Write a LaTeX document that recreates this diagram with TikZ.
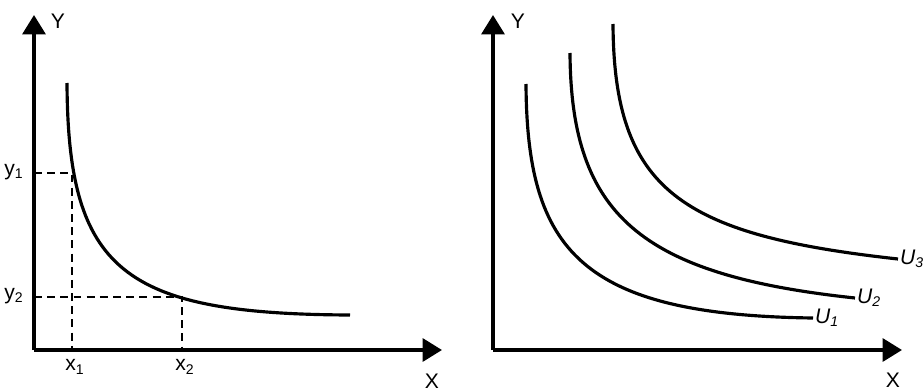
\documentclass[tikz,border=0pt]{standalone}
\usepackage{fontspec}
\setmainfont{Liberation Sans}
\usetikzlibrary{arrows.meta,positioning}
\tikzset{
    axis/.style={line width=2pt, -{Triangle[length=11pt,width=13pt]}},
    curve/.style={line width=1.8pt},
    guide/.style={line width=0.9pt, dash pattern=on 4.5pt off 3pt},
    lbl/.style={font=\fontsize{12}{14}\selectfont, inner sep=1pt},
}

\begin{document}
\begin{tikzpicture}[x=0.02cm, y=-0.02cm]
    \useasboundingbox (0,0) rectangle (923,392);

    % Left panel: one curve with two points
    \coordinate (oL) at (34,350);
    \coordinate (yL) at (34,15);
    \coordinate (xL) at (442,350);
    \draw[axis] (oL) -- (yL);
    \draw[axis] (oL) -- (xL);
    \node[lbl] (labYL) at (58,21) {Y};
    \node[lbl] (labXL) at (432,381) {X};

    \coordinate (cL0) at (67,83);
    \coordinate (cL1) at (350,315);
    \draw[curve] (cL0) .. controls (68,270) and (122,314) .. (cL1);

    \coordinate (p1) at (72,173);
    \coordinate (p2) at (182,297);
    \draw[guide] (p1 -| oL) -- (p1) -- (p1 |- oL);
    \draw[guide] (p2 -| oL) -- (p2) -- (p2 |- oL);

    \node[lbl] (lab1) at (14,172) {y\textsubscript{1}};
    \node[lbl] (lab2) at (14,296) {y\textsubscript{2}};
    \node[lbl] (lab3) at (75,367) {x\textsubscript{1}};
    \node[lbl] (lab4) at (185,367) {x\textsubscript{2}};

    % Right panel: three curves U1, U2, U3
    \coordinate (oR) at (493,350);
    \coordinate (yR) at (493,15);
    \coordinate (xR) at (902,350);
    \draw[axis] (oR) -- (yR);
    \draw[axis] (oR) -- (xR);
    \node[lbl] (labYR) at (518,21) {Y};
    \node[lbl] (labXR) at (893,380) {X};

    \node[lbl, anchor=west] (u1) at (813,318) {\textit{U}\textsubscript{\textit{1}}};
    \node[lbl, anchor=west] (u2) at (855,298) {\textit{U}\textsubscript{\textit{2}}};
    \node[lbl, anchor=west] (u3) at (898,259) {\textit{U}\textsubscript{\textit{3}}};

    \draw[curve] (526,84) .. controls (527,250) and (580,315) .. (u1.west);
    \draw[curve] (570,53) .. controls (571,215) and (640,275) .. (u2.west);
    \draw[curve] (613,24) .. controls (614,190) and (680,235) .. (u3.west);

\end{tikzpicture}
\end{document}
